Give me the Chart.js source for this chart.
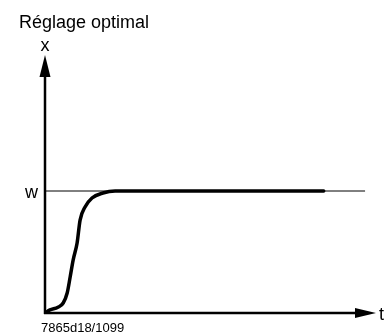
<!DOCTYPE html>
<html>
<head>
<meta charset="utf-8">
<script src="https://cdn.jsdelivr.net/npm/chart.js@4/dist/chart.umd.min.js"></script>
<style>
  html, body { margin: 0; padding: 0; background: #fff; }
  #wrap { width: 388px; height: 333px; }
</style>
</head>
<body>
<div id="wrap"><canvas id="c" width="388" height="333"></canvas></div>
<script>
// Step response of a well-tuned loop: controlled variable x versus time t
const titleText = 'Réglage optimal';
const axisLabelX = 't';
const axisLabelY = 'x';
const setpointLabel = 'w';
const figureCode = '7865d18/1099';

// Time axis extent and setpoint level (arbitrary units)
const tMax = 100;
const yMax = 2.115;
const setpoint = 1;
const setpointLineEnd = 96.7;

// Response curve samples
const responseT = [0, 1.5, 3.9, 5.5, 6.7, 7.6, 8.5, 9.7, 10.6, 12.1, 14.2, 17.5, 21.2, 84.2];
const responseX = [0, 0.025, 0.047, 0.082, 0.164, 0.295, 0.434, 0.574, 0.762, 0.869, 0.943, 0.984, 1.0, 1.0];

const responsePoints = responseT.map((t, i) => ({ x: t, y: responseX[i] }));
const setpointPoints = [{ x: 0, y: setpoint }, { x: setpointLineEnd, y: setpoint }];

const FONT = '"Liberation Sans", Arial, sans-serif';

// Draws the arrowed axes and all text labels from the chart scales
const axesPlugin = {
  id: 'arrowAxes',
  afterDatasetsDraw(chart) {
    const { ctx, scales } = chart;
    const xs = scales.x, ys = scales.y;
    const x0 = xs.getPixelForValue(0);
    const y0 = ys.getPixelForValue(0);
    const xEnd = xs.getPixelForValue(tMax);
    const yTop = ys.getPixelForValue(yMax);
    ctx.save();
    ctx.strokeStyle = '#000';
    ctx.fillStyle = '#000';
    ctx.lineWidth = 2.5;
    ctx.lineCap = 'butt';
    // vertical axis
    ctx.beginPath();
    ctx.moveTo(x0, y0 + 1);
    ctx.lineTo(x0, yTop + 18);
    ctx.stroke();
    ctx.beginPath();
    ctx.moveTo(x0, yTop);
    ctx.lineTo(x0 - 5.5, yTop + 22);
    ctx.lineTo(x0 + 5.5, yTop + 22);
    ctx.closePath();
    ctx.fill();
    // horizontal axis
    ctx.beginPath();
    ctx.moveTo(x0 - 1, y0);
    ctx.lineTo(xEnd - 16, y0);
    ctx.stroke();
    ctx.beginPath();
    ctx.moveTo(xEnd, y0);
    ctx.lineTo(xEnd - 21, y0 - 5);
    ctx.lineTo(xEnd - 21, y0 + 5);
    ctx.closePath();
    ctx.fill();

    // labels
    ctx.textBaseline = 'alphabetic';
    ctx.font = '18px ' + FONT;
    ctx.textAlign = 'left';
    ctx.fillText(titleText, 19, 28);
    ctx.textAlign = 'center';
    ctx.fillText(axisLabelY, x0, 51);
    ctx.textAlign = 'right';
    ctx.fillText(setpointLabel, x0 - 7, ys.getPixelForValue(setpoint) + 7);
    ctx.textAlign = 'left';
    ctx.fillText(axisLabelX, xEnd + 3, y0 + 7);
    ctx.font = '13px ' + FONT;
    ctx.fillText(figureCode, 41, 332);
    ctx.restore();
  }
};

new Chart(document.getElementById('c'), {
  type: 'scatter',
  data: {
    datasets: [
      {
        data: setpointPoints,
        showLine: true,
        borderColor: '#000',
        borderWidth: 1,
        pointRadius: 0,
        order: 2
      },
      {
        data: responsePoints,
        showLine: true,
        borderColor: '#000',
        borderWidth: 3.5,
        pointRadius: 0,
        cubicInterpolationMode: 'monotone',
        borderCapStyle: 'round',
        borderJoinStyle: 'round',
        order: 1
      }
    ]
  },
  options: {
    responsive: false,
    animation: false,
    devicePixelRatio: 1,
    layout: { padding: { left: 45, right: 12, top: 55, bottom: 20 } },
    plugins: { legend: { display: false }, tooltip: { enabled: false }, title: { display: false } },
    scales: {
      x: { type: 'linear', min: 0, max: tMax, display: false },
      y: { type: 'linear', min: 0, max: yMax, display: false }
    }
  },
  plugins: [axesPlugin]
});
</script>
</body>
</html>
